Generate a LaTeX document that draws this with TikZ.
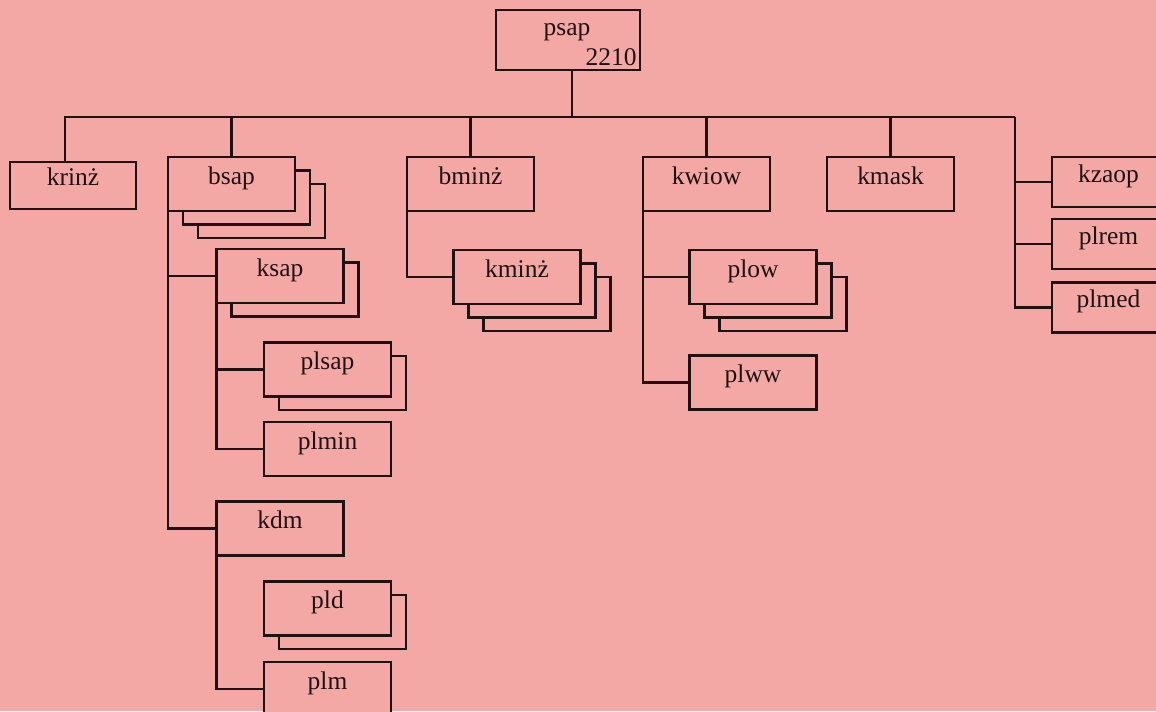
\documentclass[tikz,border=0pt]{standalone}
\usepackage{fontspec}
\setmainfont{Liberation Serif}
\usetikzlibrary{calc}
\pgfdeclarelayer{back}
\pgfsetlayers{back,main}
\definecolor{paper}{RGB}{244,168,166}
\definecolor{ink}{RGB}{30,18,18}

\begin{document}
\begin{tikzpicture}[x=0.02cm, y=-0.02cm,
  every node/.style={font=\fontsize{14.5}{17}\selectfont, text=ink},
  unit/.style={draw=ink, fill=paper, line width=1.4pt, minimum width=2.54cm,
    minimum height=1.08cm, inner sep=0pt, outer sep=0pt,
    text height=6pt, text depth=6pt},
  wire/.style={draw=ink, line width=1.4pt},
  side/.style={unit, minimum width=2.26cm, minimum height=1.0cm}]

  % --- Kartka ---
  \useasboundingbox (0,0) rectangle (1156,711);
  \clip (0,0) rectangle (1156,711);

  % --- Wierzchołek ---
  \node[unit, minimum width=2.88cm, minimum height=1.2cm] (psap) at (568,40) {};
  \node[anchor=base] (psapname) at ([shift={(-1,-5)}]psap.center) {psap};
  \node[anchor=base east, inner sep=0pt] (psapno) at ([shift={(-3,-5)}]psap.south east) {2210};

  % --- Pierwszy poziom ---
  \node[unit, minimum width=2.52cm, minimum height=0.94cm] (krinz) at (73,185.5) {krinż};
  \node[unit] (bsap)  at (231.5,184) {bsap};
  \node[unit] (bminz) at (470.5,184) {bminż};
  \node[unit] (kwiow) at (706.5,184) {kwiow};
  \node[unit] (kmask) at (890.5,184) {kmask};
  \node[side] (kzaop) at (1108.5,182) {kzaop};
  \node[side] (plrem) at (1108.5,244) {plrem};
  \node[side] (plmed) at (1108.5,307.5) {plmed};

  % --- Drugi i trzeci poziom ---
  \node[unit] (ksap)  at (280,276)     {ksap};
  \node[unit] (plsap) at (327.5,369.5) {plsap};
  \node[unit] (plmin) at (327.5,449)   {plmin};
  \node[unit] (kdm)   at (280,528.5)   {kdm};
  \node[unit] (pld)   at (327.5,608.5) {pld};
  \node[unit] (plm)   at (327.5,689)   {plm};
  \node[unit] (kminz) at (517,277)     {kminż};
  \node[unit] (plow)  at (753,277)     {plow};
  \node[unit] (plww)  at (753,382.5)   {plww};

  % --- Tło i kopie (warstwy pod spodem) ---
  \begin{pgfonlayer}{back}
    \fill[paper] (0,0) rectangle (1156,711);
    \foreach \n/\k in {bsap/2, kminz/2, plow/2, ksap/1, plsap/1, pld/1}
      \foreach \i in {\k,...,1}
        \draw[unit] ([shift={(15*\i,13.5*\i)}]\n.south west) rectangle ([shift={(15*\i,13.5*\i)}]\n.north east);
  \end{pgfonlayer}

  % --- Szyna główna ---
  \coordinate (bus)  at (572,117);
  \coordinate (busL) at (65,117);
  \coordinate (busR) at (1015,117);
  \draw[wire] (bus |- psap.south) -- (bus);
  \draw[wire] (busL |- krinz.north) -- (busL) -- (busR);
  \foreach \n in {bsap, bminz, kwiow, kmask}
    \draw[wire] (\n.north) -- (\n.north |- bus);
  \foreach \n in {kzaop, plrem, plmed}
    \draw[wire] (busR) |- (\n.west);

  % --- Gałęzie ---
  \draw[wire] (bsap.south west) |- (ksap.west);
  \draw[wire] (bsap.south west) |- (kdm.west);
  \draw[wire] (ksap.south west) |- (plsap.west);
  \draw[wire] (ksap.south west) |- (plmin.west);
  \draw[wire] (kdm.south west) |- (plm.west);
  \draw[wire] (bminz.south west) |- (kminz.west);
  \draw[wire] (kwiow.south west) |- (plow.west);
  \draw[wire] (kwiow.south west) |- (plww.west);

\end{tikzpicture}
\end{document}
